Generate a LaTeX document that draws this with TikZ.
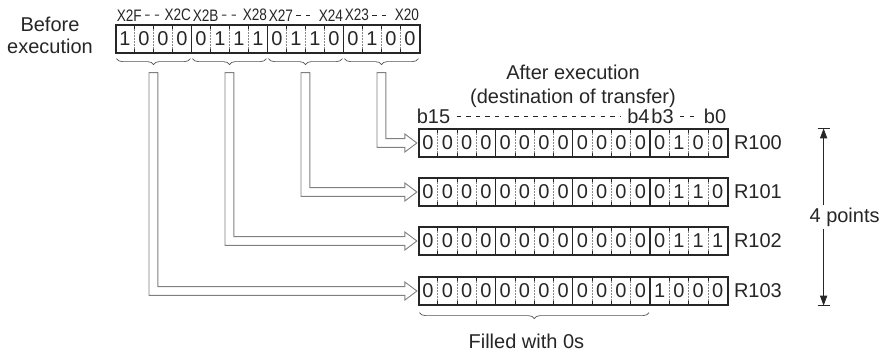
\documentclass[tikz,border=0pt]{standalone}
\usepackage{fontspec}
\setmainfont{Liberation Sans}
\usepackage{xcolor}
\usepackage{graphicx}
\usepackage{tikz}
\usetikzlibrary{calc,decorations.pathreplacing,arrows.meta}

\colorlet{regline}{black!85}
\colorlet{pipegray}{black!50}

\tikzset{
  regbox/.style={draw=regline, line width=0.6pt, inner sep=0pt, minimum height=14pt},
  bit/.style={inner sep=0pt, text=regline, font=\fontsize{10}{10}\selectfont},
  tick/.style={line width=0.35pt, draw=regline},
  dotdiv/.style={line width=0.3pt, draw=regline!55, dash pattern=on 0.6pt off 0.9pt},
  grp/.style={decorate, decoration={brace, mirror, amplitude=3pt}, line width=0.35pt, draw=regline!80},
  pipe/.style={draw=pipegray, line width=0.45pt, fill=white, line join=miter},
  lbl/.style={inner sep=1pt, text=regline, font=\fontsize{10}{11}\selectfont},
  xlbl/.style={inner sep=0pt, text=regline, font=\fontsize{8.3}{9}\selectfont},
  dashsep/.style={line width=0.45pt, draw=regline, dash pattern=on 2.2pt off 2.6pt},
  dimline/.style={line width=0.45pt, draw=regline, -{Triangle[length=5pt,width=3.6pt]}}
}

\newcommand\narrow[1]{\scalebox{0.82}[1]{#1}}
% cell dividers of a 16 bit register: #1 node, #2 cell width
\newcommand\celllines[2]{%
  \foreach \k in {1,...,15}{
    \pgfmathtruncatemacro\m{mod(\k,4)}
    \ifnum\m=0
      \draw[regbox] ($(#1.north west)+(\k*#2,0)$) -- ($(#1.south west)+(\k*#2,0)$);
    \else
      \draw[tick] ($(#1.north west)+(\k*#2,0)$) -- ($(#1.north west)+(\k*#2,5)$);
      \draw[tick] ($(#1.south west)+(\k*#2,0)$) -- ($(#1.south west)+(\k*#2,-5)$);
      \draw[dotdiv] ($(#1.north west)+(\k*#2,5)$) -- ($(#1.south west)+(\k*#2,-5)$);
    \fi
  }}
% hollow transfer arrow: #1 start coordinate, #2 destination register
\newcommand\hollow[2]{%
  \draw[pipe] let \p1=(#1), \p2=($(#2.west)+(-1.5,0)$) in
    (\x1-2.2pt,\y1) -- (\x1-2.2pt,\y2-2.2pt) -- (\x2-6pt,\y2-2.2pt) -- (\x2-6pt,\y2-4.5pt)
    -- (\x2,\y2) -- (\x2-6pt,\y2+4.5pt) -- (\x2-6pt,\y2+2.2pt) -- (\x1+2.2pt,\y2+2.2pt)
    -- (\x1+2.2pt,\y1) -- cycle;}

\begin{document}
\begin{tikzpicture}[x=0.5pt, y=-0.5pt]
  \useasboundingbox (0,0) rectangle (882,354);

  % source word X20..X2F
  \node[lbl, align=center] (before) at (50,35) {Before\\execution};
  \node[regbox, minimum width=152pt] (src) at (268,39) {};
  \foreach \b [count=\i from 0] in {1,0,0,0,0,1,1,1,0,1,1,0,0,1,0,0}
    \node[bit] (s\i) at ($(src.west)+(\i*19+9.5,0)$) {\b};
  \celllines{src}{19}
  \foreach \l/\r [count=\g from 0] in {X2F/X2C, X2B/X28, X27/X24, X23/X20}{
    \node[xlbl, anchor=south west] (xl\g) at ($(src.north west)+(\g*76+1,-3)$) {\narrow{\l}};
    \node[xlbl, anchor=south east] (xr\g) at ($(src.north west)+(\g*76+76,-3)$) {\narrow{\r}};
    \draw[dashsep, shorten <=1.5pt, shorten >=1.5pt] (xl\g.east) -- (xr\g.west);
    \draw[grp] ($(src.south west)+(\g*76+1,5)$) -- ($(src.south west)+(\g*76+75,5)$);
    \coordinate (in\g) at ($(src.south west)+(\g*76+38,19)$);
  }

  % destination registers
  \node[lbl, font=\fontsize{10}{12}\selectfont, align=center] (after) at (573,86)
    {After execution\\(destination of transfer)};
  \foreach \n/\y/\lo in {0/143/{0,1,0,0}, 1/192/{0,1,1,0}, 2/241/{0,1,1,1}, 3/291/{1,0,0,0}}{
    \node[regbox, minimum width=154.5pt] (reg\n) at (573.5,\y) {};
    \node[lbl, anchor=west] (name\n) at ($(reg\n.east)+(3,0)$) {R10\n};
    \foreach \k in {0,...,11}
      \node[bit] (r\n-\k) at ($(reg\n.west)+(\k*19.3+9.65,0)$) {0};
    \foreach \b [count=\k from 12] in \lo
      \node[bit] (r\n-\k) at ($(reg\n.west)+(\k*19.3+9.65,0)$) {\b};
    \celllines{reg\n}{19.3}
  }
  \node[lbl, inner sep=0pt, anchor=south west] (b15) at ($(reg0.north west)+(-2,-4)$) {b15};
  \node[lbl, inner sep=0pt, anchor=south east] (b4) at ($(reg0.north west)+(231.6,-4)$) {b4};
  \node[lbl, inner sep=0pt, anchor=south west] (b3) at ($(reg0.north west)+(232.6,-4)$) {b3};
  \node[lbl, inner sep=0pt, anchor=south east] (b0) at ($(reg0.north east)+(-2,-4)$) {b0};
  \draw[dashsep, shorten <=3pt, shorten >=3pt] (b15.east) -- (b4.west);
  \draw[dashsep, shorten <=3pt, shorten >=3pt] (b3.east) -- (b0.west);

  % transfer of each 4 bit group
  \foreach \g/\r in {0/3, 1/2, 2/1, 3/0}
    \hollow{in\g}{reg\r};

  % filled part
  \draw[grp] ($(reg3.south west)+(1,7)$) -- ($(reg3.south west)+(230.6,7)$);
  \node[lbl] (fill) at ($(reg3.south west)+(108,36)$) {Filled with 0s};

  % number of points
  \coordinate (ptop) at ($(reg0.north east)+(95,0)$);
  \coordinate (pbot) at ($(reg3.south east)+(95,0)$);
  \node[lbl] (pts) at ($(ptop)!0.5!(pbot)+(21,0)$) {4 points};
  \draw[dimline] (pts.north -| ptop) -- (ptop);
  \draw[dimline] (pts.south -| pbot) -- (pbot);
  \draw[line width=0.45pt, regline] ($(ptop)+(-6,0)$) -- ($(ptop)+(6,0)$);
  \draw[line width=0.45pt, regline] ($(pbot)+(-6,0)$) -- ($(pbot)+(6,0)$);
\end{tikzpicture}
\end{document}
